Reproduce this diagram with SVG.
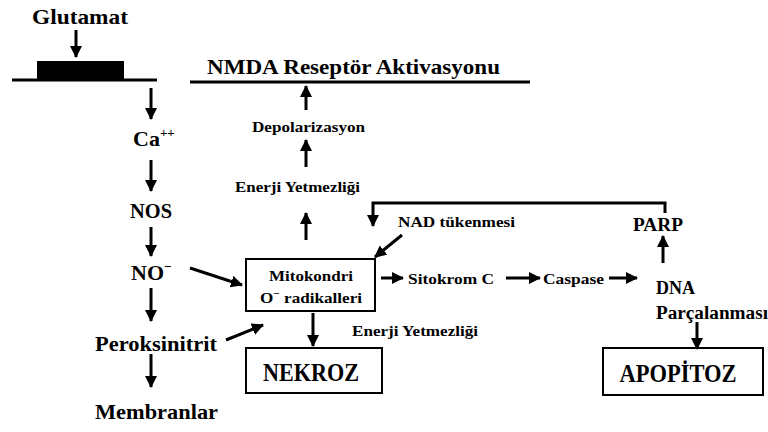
<svg xmlns="http://www.w3.org/2000/svg" width="768" height="432" viewBox="0 0 768 432">
<defs>
<marker id="ah" markerUnits="userSpaceOnUse" markerWidth="12" markerHeight="12" viewBox="0 0 12 12" refX="11" refY="6" orient="auto">
<path d="M0,0 L12,6 L0,12 z" fill="#000"/>
</marker>
</defs>
<style>
.c{stroke:#000;stroke-width:3;fill:none;marker-end:url(#ah)}
.ln{stroke:#000;stroke-width:3;fill:none}
.box{fill:#fff;stroke:#000;stroke-width:2}
</style>
<rect width="768" height="432" fill="#fff"/>
<g id="membrane">
<line x1="12" y1="80" x2="157" y2="80" class="ln"/>
<rect x="37" y="61" width="87" height="19" fill="#000"/>
</g>
<g id="glutamat"><text x="80" y="24" font-family="Liberation Serif" font-weight="bold" font-size="22" text-anchor="middle" textLength="96" lengthAdjust="spacingAndGlyphs">Glutamat</text></g>
<g id="nmda">
<line x1="190" y1="82" x2="530" y2="82" class="ln"/>
<text x="207" y="74" font-family="Liberation Serif" font-weight="bold" font-size="22" textLength="293" lengthAdjust="spacingAndGlyphs">NMDA Reseptör Aktivasyonu</text>
</g>
<g id="ca"><text x="133" y="146" font-family="Liberation Serif" font-weight="bold" font-size="22">Ca<tspan font-size="13" dy="-9">++</tspan></text></g>
<g id="nos"><text x="151" y="218" font-family="Liberation Serif" font-weight="bold" font-size="22" text-anchor="middle" textLength="42" lengthAdjust="spacingAndGlyphs">NOS</text></g>
<g id="no"><text x="131" y="280" font-family="Liberation Serif" font-weight="bold" font-size="22">NO<tspan font-size="13" dy="-9">−</tspan></text></g>
<g id="peroksinitrit"><text x="95" y="351" font-family="Liberation Serif" font-weight="bold" font-size="22" textLength="122" lengthAdjust="spacingAndGlyphs">Peroksinitrit</text></g>
<g id="membranlar"><text x="95" y="419" font-family="Liberation Serif" font-weight="bold" font-size="22" textLength="123" lengthAdjust="spacingAndGlyphs">Membranlar</text></g>
<g id="depolarizasyon"><text x="252" y="132" font-family="Liberation Serif" font-weight="bold" font-size="15" textLength="113" lengthAdjust="spacingAndGlyphs">Depolarizasyon</text></g>
<g id="enerji1"><text x="235" y="192" font-family="Liberation Serif" font-weight="bold" font-size="15" textLength="125" lengthAdjust="spacingAndGlyphs">Enerji Yetmezliği</text></g>
<g id="mitokondri">
<rect x="246" y="259" width="129" height="52" class="box"/>
<text x="311" y="281" font-family="Liberation Serif" font-weight="bold" font-size="15" text-anchor="middle" textLength="84" lengthAdjust="spacingAndGlyphs">Mitokondri</text>
<text x="311" y="303" font-family="Liberation Serif" font-weight="bold" font-size="15" text-anchor="middle" textLength="102" lengthAdjust="spacingAndGlyphs">O<tspan font-size="10" dy="-6">−</tspan><tspan dy="6"> radikalleri</tspan></text>
</g>
<g id="nekroz">
<rect x="246" y="348" width="136" height="45" class="box"/>
<text x="311" y="381" font-family="Liberation Serif" font-weight="bold" font-size="25" text-anchor="middle" textLength="96" lengthAdjust="spacingAndGlyphs">NEKROZ</text>
</g>
<g id="enerji2"><text x="352" y="336" font-family="Liberation Serif" font-weight="bold" font-size="15" textLength="126" lengthAdjust="spacingAndGlyphs">Enerji Yetmezliği</text></g>
<g id="nad"><text x="398" y="227" font-family="Liberation Serif" font-weight="bold" font-size="15" textLength="117" lengthAdjust="spacingAndGlyphs">NAD tükenmesi</text></g>
<g id="sitokrom"><text x="408" y="284" font-family="Liberation Serif" font-weight="bold" font-size="15" textLength="86" lengthAdjust="spacingAndGlyphs">Sitokrom C</text></g>
<g id="caspase"><text x="543" y="284" font-family="Liberation Serif" font-weight="bold" font-size="15" textLength="61" lengthAdjust="spacingAndGlyphs">Caspase</text></g>
<g id="parp"><text x="633" y="231" font-family="Liberation Serif" font-weight="bold" font-size="18" textLength="50" lengthAdjust="spacingAndGlyphs">PARP</text></g>
<g id="dna">
<text x="656" y="294" font-family="Liberation Serif" font-weight="bold" font-size="18" textLength="39" lengthAdjust="spacingAndGlyphs">DNA</text>
<text x="656" y="319" font-family="Liberation Serif" font-weight="bold" font-size="18" textLength="112" lengthAdjust="spacingAndGlyphs">Parçalanması</text>
</g>
<g id="apopitoz">
<rect x="603" y="348" width="160" height="47" class="box"/>
<text x="678" y="382" font-family="Liberation Serif" font-weight="bold" font-size="25" text-anchor="middle" textLength="117" lengthAdjust="spacingAndGlyphs">APOPİTOZ</text>
</g>
<g id="connectors">
<line x1="76" y1="30" x2="76" y2="57" class="c"/>
<line x1="151" y1="88" x2="151" y2="119" class="c"/>
<line x1="151" y1="160" x2="151" y2="191" class="c"/>
<line x1="151" y1="227" x2="151" y2="256" class="c"/>
<line x1="151" y1="288" x2="151" y2="321" class="c"/>
<line x1="151" y1="354" x2="151" y2="387" class="c"/>
<line x1="190" y1="268" x2="242" y2="285" class="c"/>
<line x1="226" y1="340" x2="263" y2="325" class="c"/>
<line x1="313" y1="313" x2="313" y2="346" class="c"/>
<line x1="306" y1="240" x2="306" y2="213" class="c"/>
<line x1="306" y1="167" x2="306" y2="140" class="c"/>
<line x1="306" y1="110" x2="306" y2="86" class="c"/>
<path d="M665,213 V203 H373 V226" class="c"/>
<line x1="402" y1="235" x2="375" y2="257" class="c"/>
<line x1="381" y1="278" x2="403" y2="278" class="c"/>
<line x1="506" y1="278" x2="540" y2="278" class="c"/>
<line x1="609" y1="278" x2="637" y2="278" class="c"/>
<line x1="663" y1="263" x2="663" y2="236" class="c"/>
<line x1="697" y1="322" x2="697" y2="349" class="c"/>
</g>
</svg>
